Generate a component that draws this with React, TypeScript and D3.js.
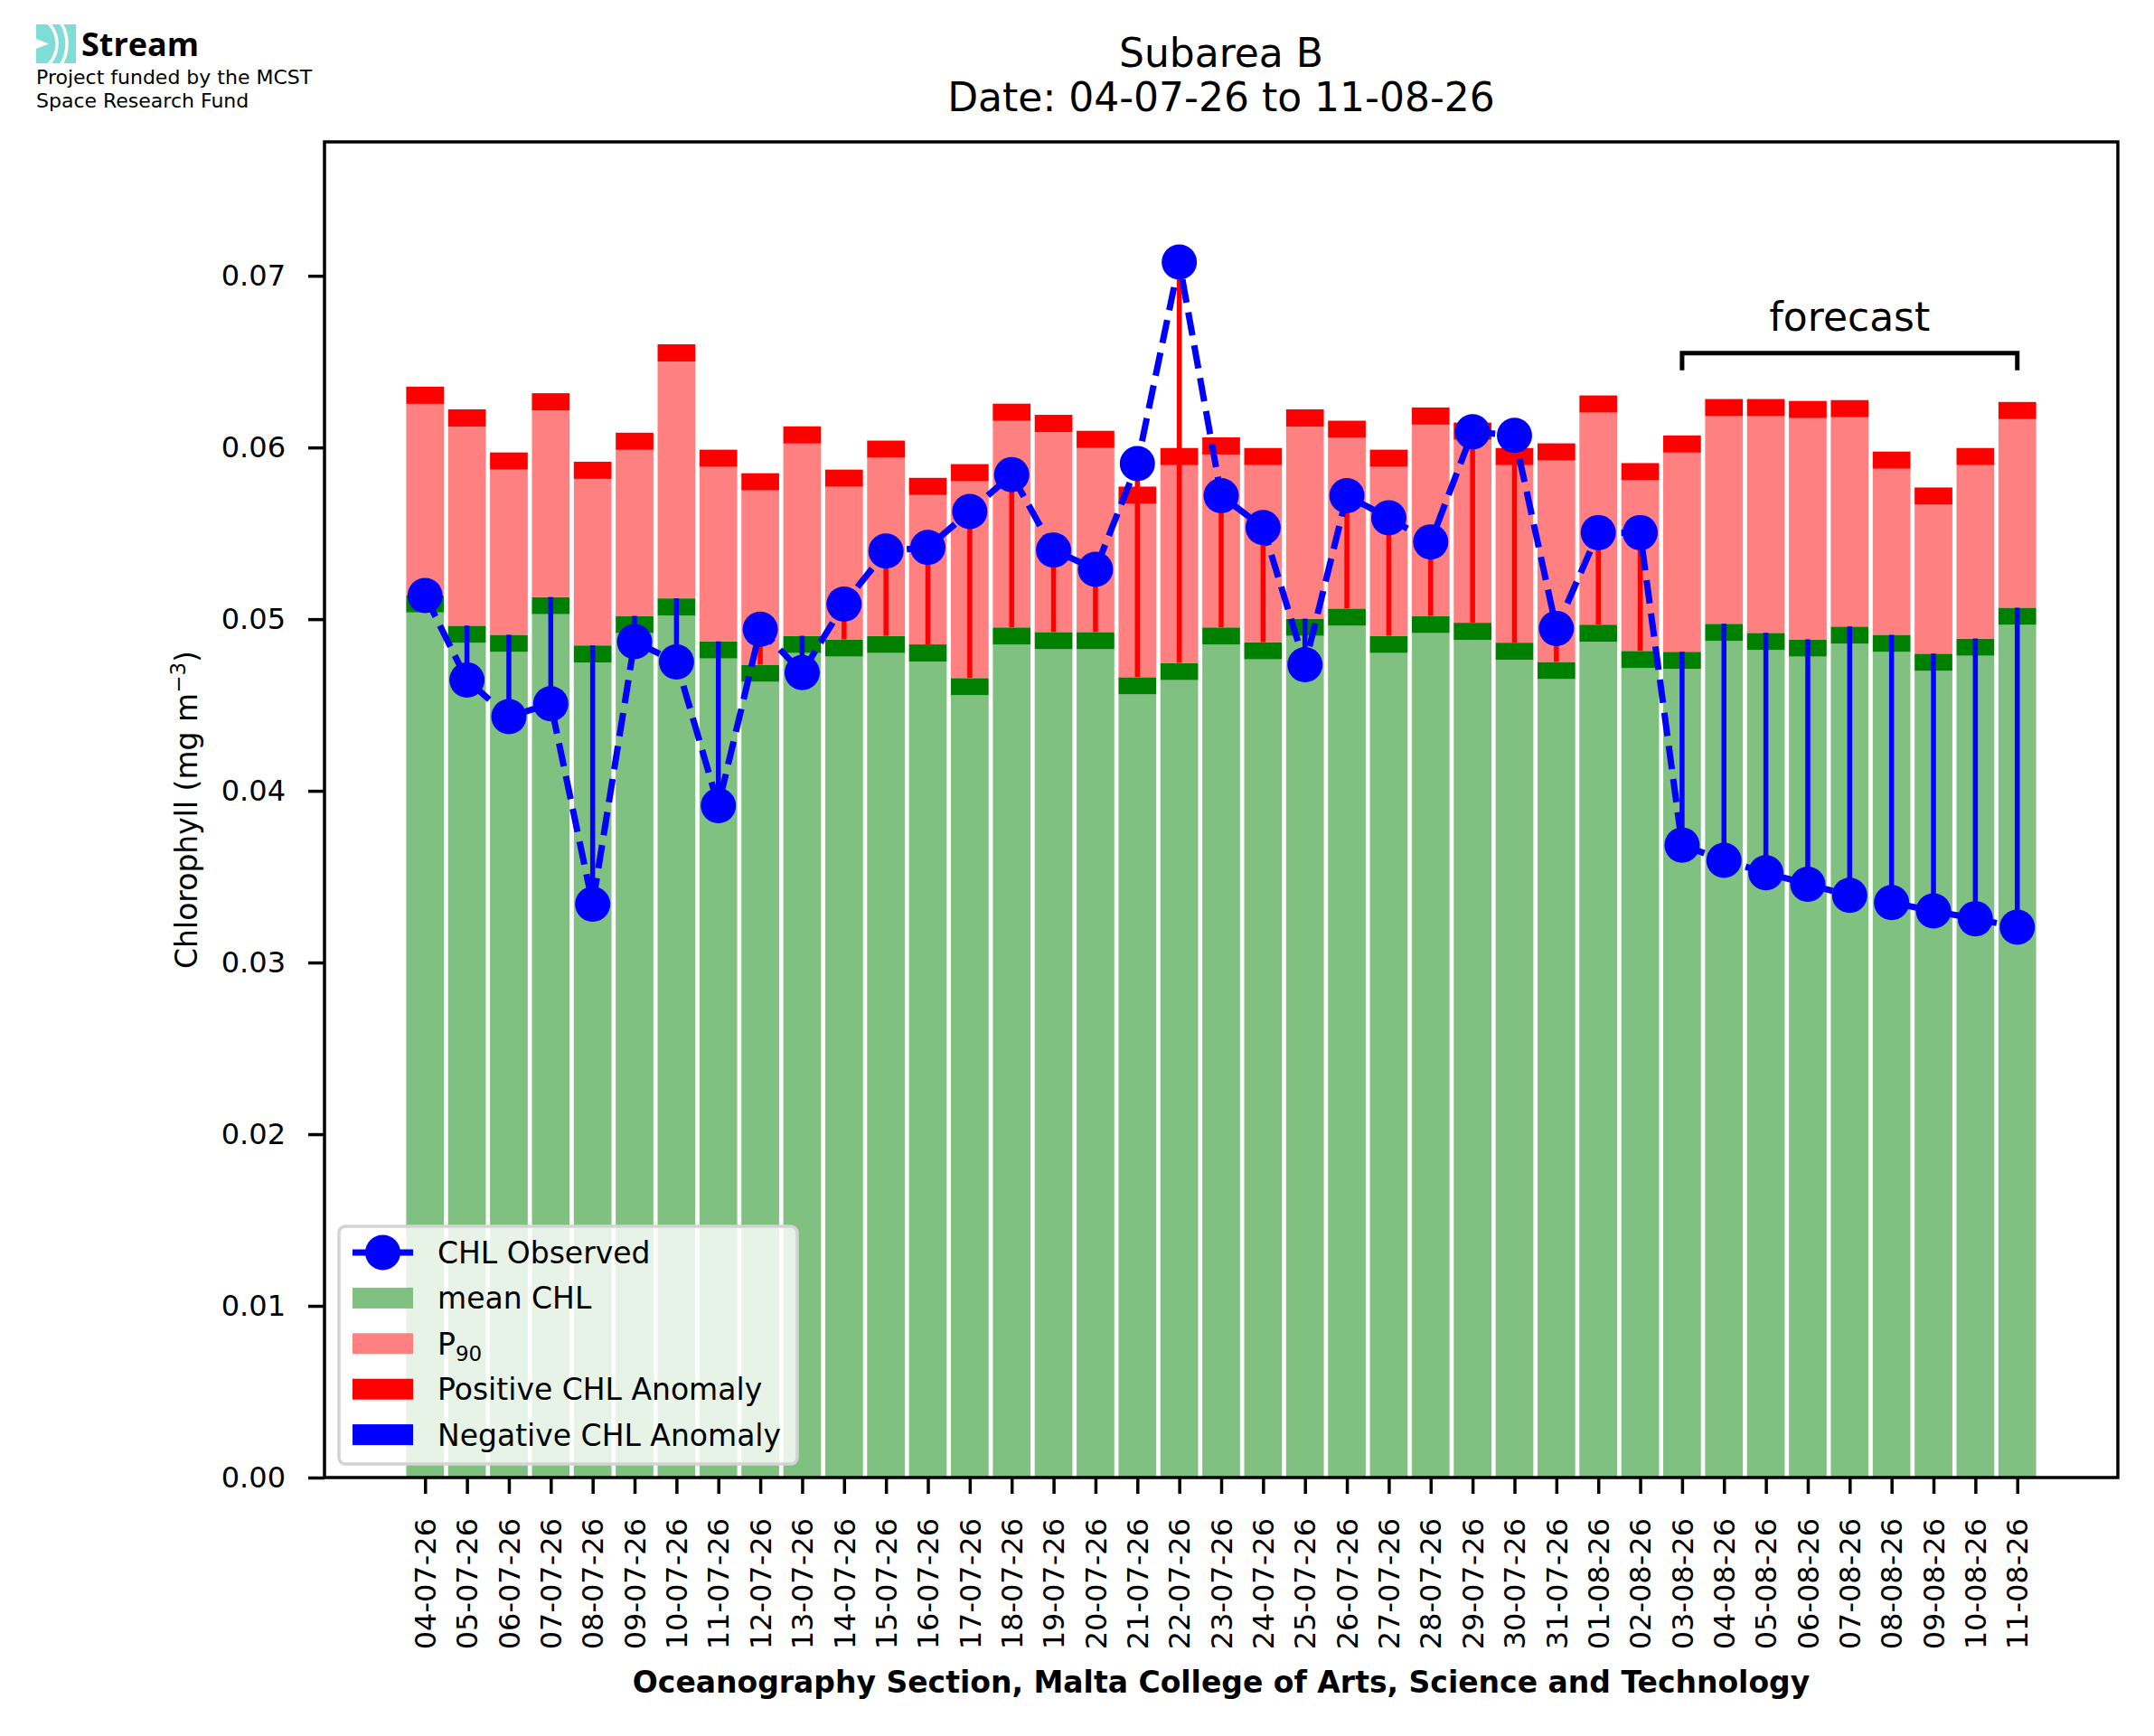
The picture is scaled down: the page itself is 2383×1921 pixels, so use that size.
import { useRef, useEffect } from 'react';
import * as d3 from 'd3';

const dates = [
  '04-07-26', '05-07-26', '06-07-26', '07-07-26', '08-07-26', '09-07-26', '10-07-26', '11-07-26',
  '12-07-26', '13-07-26', '14-07-26', '15-07-26', '16-07-26', '17-07-26', '18-07-26', '19-07-26',
  '20-07-26', '21-07-26', '22-07-26', '23-07-26', '24-07-26', '25-07-26', '26-07-26', '27-07-26',
  '28-07-26', '29-07-26', '30-07-26', '31-07-26', '01-08-26', '02-08-26', '03-08-26', '04-08-26',
  '05-08-26', '06-08-26', '07-08-26', '08-08-26', '09-08-26', '10-08-26', '11-08-26',
];

const observed = [
  0.05137, 0.04646, 0.04432, 0.04507, 0.0334, 0.04869, 0.04751, 0.03914,
  0.04941, 0.04689, 0.05088, 0.05397, 0.05418, 0.05627, 0.05842, 0.05402,
  0.0529, 0.05906, 0.0708, 0.05719, 0.05534, 0.04735, 0.05719, 0.0559,
  0.0545, 0.06091, 0.0607, 0.04946, 0.05504, 0.05504, 0.03684, 0.03595,
  0.03523, 0.03456, 0.03391, 0.03349, 0.033, 0.03255, 0.03206,
];

const meanChl = [
  0.05139, 0.04962, 0.04909, 0.05129, 0.04847, 0.05019, 0.05121, 0.04871,
  0.04735, 0.04903, 0.04882, 0.04903, 0.04853, 0.04657, 0.04952, 0.04925,
  0.04925, 0.04662, 0.04745, 0.04952, 0.04866, 0.05003, 0.05062, 0.04903,
  0.05019, 0.04979, 0.04863, 0.04751, 0.04968, 0.04815, 0.0481, 0.04973,
  0.0492, 0.04882, 0.04957, 0.04909, 0.04799, 0.04887, 0.05067,
];

const p90 = [
  0.06354, 0.06222, 0.05971, 0.06316, 0.05917, 0.06086, 0.06601, 0.05987,
  0.0585, 0.06123, 0.05871, 0.0604, 0.05823, 0.05903, 0.06255, 0.0619,
  0.06097, 0.05772, 0.05997, 0.06059, 0.05997, 0.06222, 0.06156, 0.05987,
  0.06233, 0.06145, 0.05997, 0.06024, 0.06303, 0.05909, 0.0607, 0.06282,
  0.06282, 0.06271, 0.06276, 0.05976, 0.05767, 0.05997, 0.06265,
];

const yTicks = [0, 0.01, 0.02, 0.03, 0.04, 0.05, 0.06, 0.07];
const bandHeight = 0.001;
const yMax = 0.0778;
const forecastStart = 30;
const bracketTop = 0.0655;
const bracketBottom = 0.0645;
const forecastLabelY = 0.0668;

const FONT = 'DejaVu Sans, sans-serif';

export default function App() {
  const svgRef = useRef<SVGSVGElement>(null);

  useEffect(() => {
    if (!svgRef.current) return;
    const svg = d3.select(svgRef.current);
    svg.selectAll('*').remove();

    const width = 2383;
    const height = 1921;
    const margin = { top: 157, right: 40, bottom: 286, left: 359 };

    const n = dates.length;
    const x = d3.scaleLinear().domain([-2.4, n + 1.4]).range([margin.left, width - margin.right]);
    const y = d3.scaleLinear().domain([0, yMax]).range([height - margin.bottom, margin.top]);
    const barW = x(0.9) - x(0);
    const idx = d3.range(n);

    svg.append('rect').attr('width', width).attr('height', height).attr('fill', '#fff');

    // Logo
    const logo = svg.append('g');
    const defs = svg.append('defs');
    defs.append('clipPath').attr('id', 'logo-clip')
      .append('rect').attr('x', 40).attr('y', 27).attr('width', 44).attr('height', 43);
    const icon = logo.append('g').attr('clip-path', 'url(#logo-clip)');
    icon.append('rect').attr('x', 40).attr('y', 27).attr('width', 44).attr('height', 43).attr('fill', '#7fdcd6');
    [33, 44].forEach((r) => {
      icon.append('circle').attr('cx', 30).attr('cy', 48.5).attr('r', r)
        .attr('fill', 'none').attr('stroke', '#fff').attr('stroke-width', 3.5);
    });
    icon.append('path').attr('d', 'M40,43 L54,48.5 L40,54 Z').attr('fill', '#fff');
    logo.append('text').attr('x', 90).attr('y', 62)
      .style('font-family', 'Open Sans, sans-serif').style('font-weight', 700).style('font-size', '36px')
      .text('Stream');
    logo.append('text').attr('x', 40).attr('y', 93)
      .style('font-family', FONT).style('font-size', '22px').text('Project funded by the MCST');
    logo.append('text').attr('x', 40).attr('y', 119)
      .style('font-family', FONT).style('font-size', '22px').text('Space Research Fund');

    // Title
    const cx = (margin.left + width - margin.right) / 2;
    svg.append('text').attr('x', cx).attr('y', 74).attr('text-anchor', 'middle')
      .style('font-family', FONT).style('font-size', '44px').text('Subarea B');
    svg.append('text').attr('x', cx).attr('y', 123).attr('text-anchor', 'middle')
      .style('font-family', FONT).style('font-size', '44px').text('Date: 04-07-26 to 11-08-26');

    const g = svg.append('g');

    // mean CHL bars
    g.selectAll('rect.mean').data(idx).join('rect')
      .attr('x', (i) => x(i) - barW / 2)
      .attr('y', (i) => y(meanChl[i] - bandHeight))
      .attr('width', barW)
      .attr('height', (i) => y(0) - y(meanChl[i] - bandHeight))
      .attr('fill', '#80c080');
    g.selectAll('rect.meanband').data(idx).join('rect')
      .attr('x', (i) => x(i) - barW / 2)
      .attr('y', (i) => y(meanChl[i]))
      .attr('width', barW)
      .attr('height', y(0) - y(bandHeight))
      .attr('fill', '#008000');

    // P90 bars
    g.selectAll('rect.p90').data(idx).join('rect')
      .attr('x', (i) => x(i) - barW / 2)
      .attr('y', (i) => y(p90[i] - bandHeight))
      .attr('width', barW)
      .attr('height', (i) => y(meanChl[i]) - y(p90[i] - bandHeight))
      .attr('fill', '#ff8080');
    g.selectAll('rect.p90band').data(idx).join('rect')
      .attr('x', (i) => x(i) - barW / 2)
      .attr('y', (i) => y(p90[i]))
      .attr('width', barW)
      .attr('height', y(0) - y(bandHeight))
      .attr('fill', '#ff0000');

    // anomaly lines
    g.selectAll('line.anom').data(idx).join('line')
      .attr('x1', (i) => x(i)).attr('x2', (i) => x(i))
      .attr('y1', (i) => y(meanChl[i]))
      .attr('y2', (i) => y(observed[i]))
      .attr('stroke', (i) => (observed[i] >= meanChl[i] ? '#ff0000' : '#0000ff'))
      .attr('stroke-width', 5.5);

    // observed line
    const line = d3.line<number>().x((_, i) => x(i)).y((d) => y(d));
    g.append('path').datum(observed)
      .attr('d', line)
      .attr('fill', 'none')
      .attr('stroke', '#0000ff')
      .attr('stroke-width', 7)
      .attr('stroke-dasharray', '26 11');
    g.selectAll('circle.obs').data(observed).join('circle')
      .attr('cx', (_, i) => x(i))
      .attr('cy', (d) => y(d))
      .attr('r', 19.5)
      .attr('fill', '#0000ff');

    // forecast bracket
    const bx0 = x(forecastStart);
    const bx1 = x(n - 1);
    g.append('path')
      .attr('d', `M${bx0},${y(bracketBottom)} L${bx0},${y(bracketTop)} L${bx1},${y(bracketTop)} L${bx1},${y(bracketBottom)}`)
      .attr('fill', 'none').attr('stroke', '#000').attr('stroke-width', 5);
    g.append('text')
      .attr('x', (bx0 + bx1) / 2).attr('y', y(forecastLabelY))
      .attr('text-anchor', 'middle')
      .style('font-family', FONT).style('font-size', '44px')
      .text('forecast');

    // axes
    const yAxis = svg.append('g')
      .attr('transform', `translate(${margin.left},0)`)
      .call(d3.axisLeft(y).tickValues(yTicks).tickSize(18).tickPadding(25).tickFormat(d3.format('.2f')));
    yAxis.select('.domain').remove();
    yAxis.selectAll('line').attr('stroke', '#000').attr('stroke-width', 3.5);
    yAxis.selectAll('text').attr('fill', '#000')
      .style('font-family', FONT).style('font-size', '32px');

    const xAxis = svg.append('g')
      .attr('transform', `translate(0,${height - margin.bottom})`)
      .call(d3.axisBottom(x).tickValues(idx).tickSize(18).tickFormat((d) => dates[d as number]));
    xAxis.select('.domain').remove();
    xAxis.selectAll('line').attr('stroke', '#000').attr('stroke-width', 3.5);
    xAxis.selectAll('text')
      .attr('transform', 'rotate(-90)')
      .attr('x', -45).attr('y', 0).attr('dy', '0.35em')
      .attr('text-anchor', 'end')
      .attr('fill', '#000')
      .style('font-family', FONT).style('font-size', '32px');

    // frame
    svg.append('rect')
      .attr('x', margin.left).attr('y', margin.top)
      .attr('width', width - margin.left - margin.right)
      .attr('height', height - margin.top - margin.bottom)
      .attr('fill', 'none').attr('stroke', '#000').attr('stroke-width', 3.5);

    // axis labels
    const yl = svg.append('text')
      .attr('transform', `translate(206,${(margin.top + height - margin.bottom) / 2}) rotate(-90)`)
      .attr('text-anchor', 'middle').attr('dy', '0.35em')
      .style('font-family', FONT).style('font-size', '33px');
    yl.append('tspan').text('Chlorophyll (mg m');
    yl.append('tspan').attr('dy', -13).style('font-size', '23px').text('\u22123');
    yl.append('tspan').attr('dy', 13).text(')');

    svg.append('text')
      .attr('x', cx).attr('y', 1873).attr('text-anchor', 'middle')
      .style('font-family', FONT).style('font-weight', 700).style('font-size', '33px')
      .text('Oceanography Section, Malta College of Arts, Science and Technology');

    // legend
    const lg = svg.append('g');
    lg.append('rect')
      .attr('x', 375).attr('y', 1357).attr('width', 507).attr('height', 263)
      .attr('rx', 7)
      .attr('fill', '#fff').attr('fill-opacity', 0.8)
      .attr('stroke', '#d3d3d3').attr('stroke-width', 3.5);
    const rows = [
      { label: 'CHL Observed', kind: 'line', color: '#0000ff' },
      { label: 'mean CHL', kind: 'patch', color: '#80c080' },
      { label: 'P', kind: 'patch', color: '#ff8080', sub: '90' },
      { label: 'Positive CHL Anomaly', kind: 'patch', color: '#ff0000' },
      { label: 'Negative CHL Anomaly', kind: 'patch', color: '#0000ff' },
    ];
    rows.forEach((r, i) => {
      const cy = 1386 + i * 50.4;
      if (r.kind === 'line') {
        lg.append('line').attr('x1', 390).attr('x2', 457).attr('y1', cy).attr('y2', cy)
          .attr('stroke', r.color).attr('stroke-width', 7);
        lg.append('circle').attr('cx', 423.5).attr('cy', cy).attr('r', 19.5).attr('fill', r.color);
      } else {
        lg.append('rect').attr('x', 390).attr('y', cy - 11.5).attr('width', 67).attr('height', 23)
          .attr('fill', r.color);
      }
      const t = lg.append('text').attr('x', 484).attr('y', cy + 12)
        .style('font-family', FONT).style('font-size', '33px');
      t.append('tspan').text(r.label);
      if (r.sub) t.append('tspan').attr('dy', 7).style('font-size', '23px').text(r.sub);
    });
  }, []);

  return (
    <svg
      ref={svgRef}
      width={2383}
      height={1921}
      style={{ position: 'absolute', left: 0, top: 0, display: 'block' }}
    />
  );
}
